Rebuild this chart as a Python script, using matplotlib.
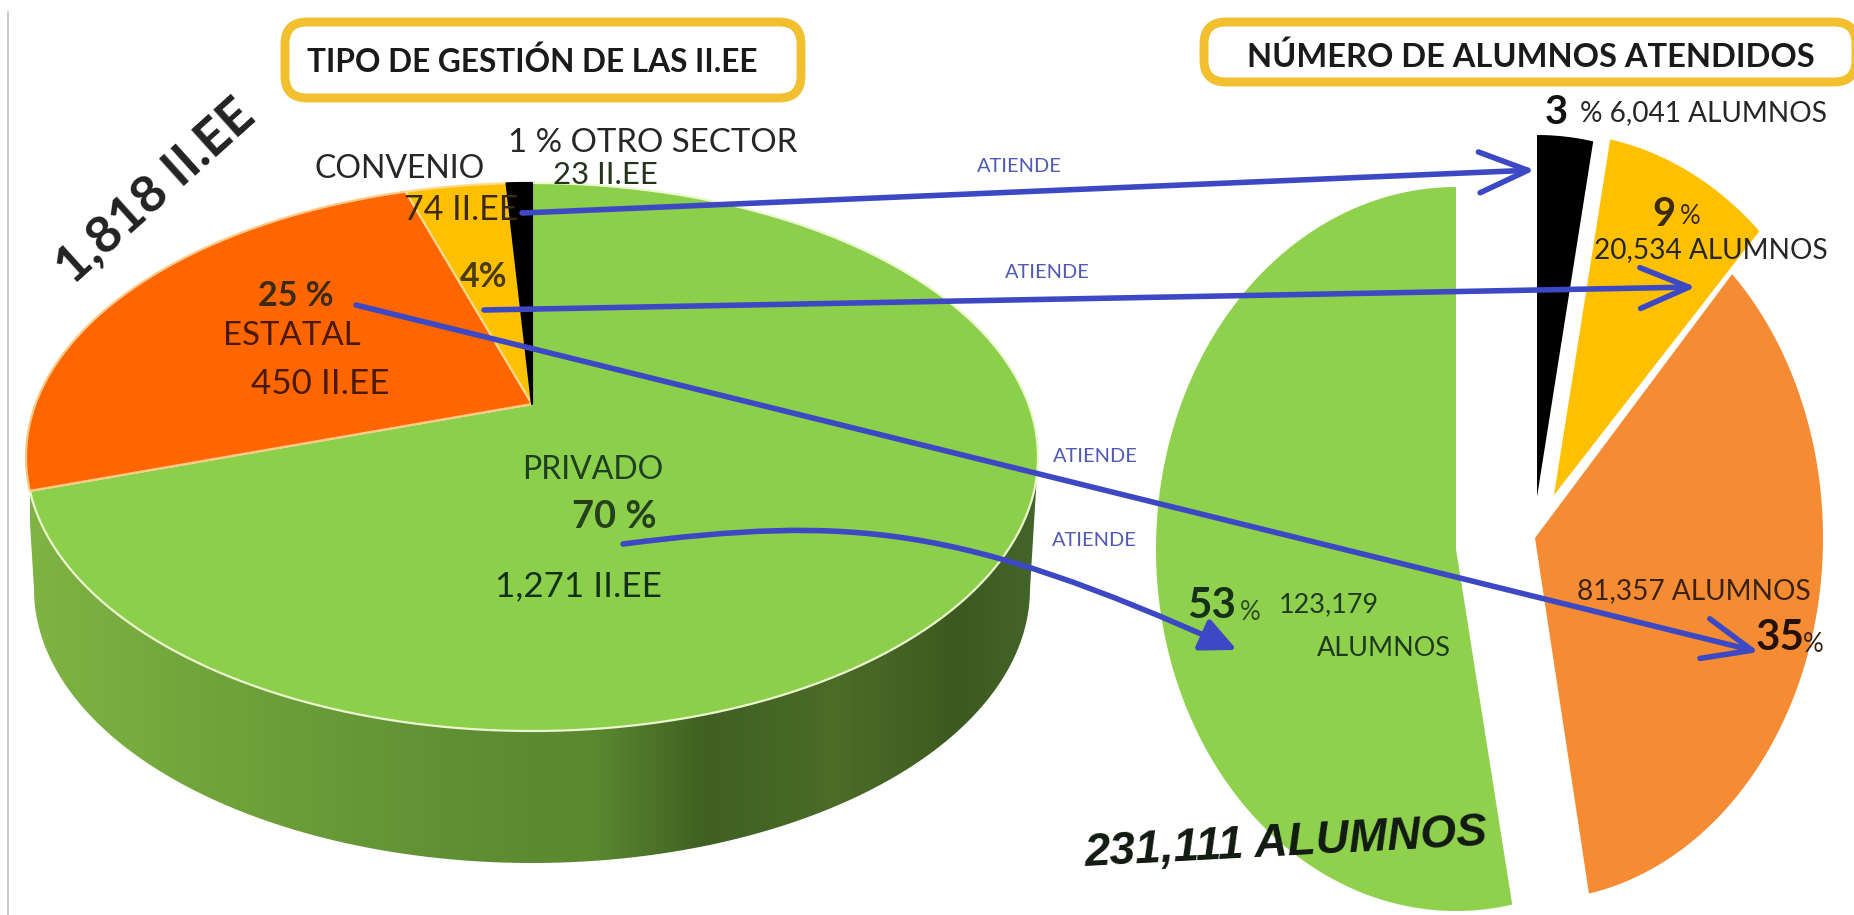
# -*- coding: utf-8 -*-
import numpy as np
import matplotlib
matplotlib.use("Agg")
import matplotlib.pyplot as plt
from matplotlib.colors import LinearSegmentedColormap
from matplotlib.patches import FancyArrowPatch, FancyBboxPatch, Polygon
from matplotlib.path import Path

# ---- datos ----
gestion_names = ["OTRO SECTOR", "CONVENIO", "ESTATAL", "PRIVADO"]
gestion_pct = [1, 4, 25, 70]
gestion_iiee = ["23", "74", "450", "1,271"]
alumnos_pct = [3, 9, 35, 53]
alumnos_n = ["6,041", "20,534", "81,357", "123,179"]
total_iiee = "1,818"
total_alumnos = "231,111"

NARROW = ["Lato", "DejaVu Sans"]
BLUE = "#3d48c4"
GOLD = "#f2bf2e"

fig = plt.figure(figsize=(18.54, 9.15), dpi=100)
ax = fig.add_axes([0, 0, 1, 1])


def txt(x, y, s, px, color="#262626", weight="normal", rot=0, ha="center", style="normal", fam=NARROW):
    ax.text(x, y, s, fontsize=px*0.72, color=color, weight=weight, rotation=rot, ha=ha, va="center",
            style=style, family=fam, rotation_mode="anchor", zorder=6)


def rim(cx, cy, rx, ry, a0, a1, n=160):                # angulo medido desde arriba, sentido horario
    t = np.radians(np.linspace(a0, a1, n))
    return np.column_stack([cx + rx*np.sin(t), cy - ry*np.cos(t)])


def persp(deg):                                        # deformacion de la perspectiva del pastel 3D
    return deg - np.degrees(0.2*np.sin(np.radians(deg)))


# marco gris izquierdo
ax.plot([8, 8], [12, 915], color="#c4c4c4", lw=1.2)

# ---- pastel izquierdo 3D ----
cx, cy, rx, ry = 532, 457, 506, 274
vx, vy = 532, 404
pared = np.vstack([rim(532, 589, 498, 274, 90, 270), rim(cx, cy, rx, ry, 270, 450)])
wall = Polygon(pared, closed=True, fc="none", ec="none")
ax.add_patch(wall)
cm_wall = LinearSegmentedColormap.from_list("wall", [(0, "#7fb443"), (0.2, "#6ea23a"), (0.45, "#5f8d33"),
                                                     (0.56, "#5b8830"), (0.67, "#3f6021"), (0.8, "#4b6d28"),
                                                     (0.92, "#3c5a1e"), (1, "#44652a")])
im = ax.imshow(np.linspace(0, 1, 400)[None, :], extent=(30, 1040, 870, 180), aspect="auto", cmap=cm_wall, zorder=1)
im.set_clip_path(wall)

cols_left = ["#000000", "#ffc000", "#ff6600", "#8ccf4b"]
edges_left = ["#000000", "#ffd98a", "#ffc98a", "#ecf7cf"]
cum = np.cumsum([0] + gestion_pct)*3.6
for i in [3, 2, 1, 0]:
    a0, a1 = persp(cum[i]), persp(cum[i+1])
    pts = np.vstack([[vx, vy], rim(cx, cy, rx, ry, -a0, -a1)])
    ax.add_patch(Polygon(pts, closed=True, fc=cols_left[i], ec=edges_left[i], lw=1.6, zorder=2, joinstyle="round"))

# ---- pastel derecho separado ----
vert = [(1537, 497, 300), (1554, 495, 300), (1535, 538, 288), (1456, 549, 300)]
ry2 = 362
cols_right = ["#000000", "#ffc000", "#f58b32", "#8fd14c"]
cum2 = np.cumsum([0] + alumnos_pct)*3.6
for i, (px_, py_, rx2) in enumerate(vert):
    pts = np.vstack([[px_, py_], rim(px_, py_, rx2, ry2, cum2[i], cum2[i+1])])
    ax.add_patch(Polygon(pts, closed=True, fc=cols_right[i], ec="none", zorder=2))

# ---- recuadros de titulo ----
for x0, y0, w, h in [(285, 22, 516, 76), (1204, 22, 652, 60)]:
    ax.add_patch(FancyBboxPatch((x0+22, y0+22), w-44, h-44, boxstyle="round,pad=22,rounding_size=22",
                                fc="white", ec=GOLD, lw=6.4, zorder=3))
txt(532, 62, "TIPO DE GESTIÓN DE LAS II.EE", 31.7, "#1a1a1a", "bold")
txt(1531, 57, "NÚMERO DE ALUMNOS ATENDIDOS", 32.6, "#1a1a1a", "bold")

# ---- textos pastel izquierdo ----
txt(156, 192, f"{total_iiee} II.EE", 52, "#222222", "bold", rot=42)
txt(400, 169, gestion_names[1], 32)
txt(653, 143, f"{gestion_pct[0]} % {gestion_names[0]}", 33)
txt(605, 175, f"{gestion_iiee[0]} II.EE", 31, "#24331c")
txt(461, 210, f"{gestion_iiee[1]} II.EE", 34, "#3a2a10")
txt(484, 277, f"{gestion_pct[1]}%", 34, "#4a3a10", "bold")
txt(296, 296, f"{gestion_pct[2]} %", 34, "#3a2a14", "bold")
txt(292, 336, gestion_names[2], 33, "#4a1a00")
txt(320, 384, f"{gestion_iiee[2]} II.EE", 35, "#4a1a00")
txt(593, 470, gestion_names[3], 32, "#1f4020")
txt(614, 517, f"{gestion_pct[3]} %", 38, "#27401c", "bold")
txt(578, 586, f"{gestion_iiee[3]} II.EE", 35, "#123018")

# ---- textos pastel derecho ----
txt(1556, 113, f"{alumnos_pct[0]}", 40, "#111111", "bold")
txt(1704, 113, f"% {alumnos_n[0]} ALUMNOS", 28)
txt(1664, 214, f"{alumnos_pct[1]}", 40, "#3a2a10", "bold")
txt(1690, 216, "%", 26, "#3a2a10")
txt(1711, 250, f"{alumnos_n[1]} ALUMNOS", 28)
txt(1212, 606, f"{alumnos_pct[3]}", 42, "#17301a", "bold")
txt(1250, 612, "%", 26, "#2d4a2a")
txt(1329, 605, alumnos_n[3], 27, "#1e3a1e")
txt(1384, 648, "ALUMNOS", 27, "#1e3a1e")
txt(1694, 591, f"{alumnos_n[2]} ALUMNOS", 28, "#3a2210")
txt(1780, 638, f"{alumnos_pct[2]}", 42, "#241208", "bold")
txt(1813, 644, "%", 26, "#3a2210")
txt(1286, 843, f"{total_alumnos} ALUMNOS", 46, "#111a11", "bold", rot=3, style="italic", fam=["Liberation Sans", "DejaVu Sans"])

# ---- flechas ATIENDE ----
for x, y in [(1019, 167), (1047, 273), (1095, 456), (1094, 541)]:
    txt(x, y, "ATIENDE", 20, "#5159b4")

rectas = [((522, 213), (1535, 170)), ((484, 310), (1696, 287)), ((356, 305), (1759, 652))]
for p0, p1 in rectas:
    ax.add_patch(FancyArrowPatch(p0, p1, arrowstyle="->,head_length=1.0,head_width=0.42", mutation_scale=35,
                                 color=BLUE, lw=4, shrinkA=0, shrinkB=0, zorder=5))
curva = Path([(623, 544), (851, 515), (960, 525), (1237, 650)], [Path.MOVETO, Path.CURVE4, Path.CURVE4, Path.CURVE4])
ax.add_patch(FancyArrowPatch(path=curva, arrowstyle="-|>,head_length=0.9,head_width=0.42", mutation_scale=24,
                             color=BLUE, lw=4, zorder=5))

ax.set_xlim(0, 1854)
ax.set_ylim(915, 0)
ax.axis("off")
fig.savefig("out.png", dpi=100, facecolor="white")
